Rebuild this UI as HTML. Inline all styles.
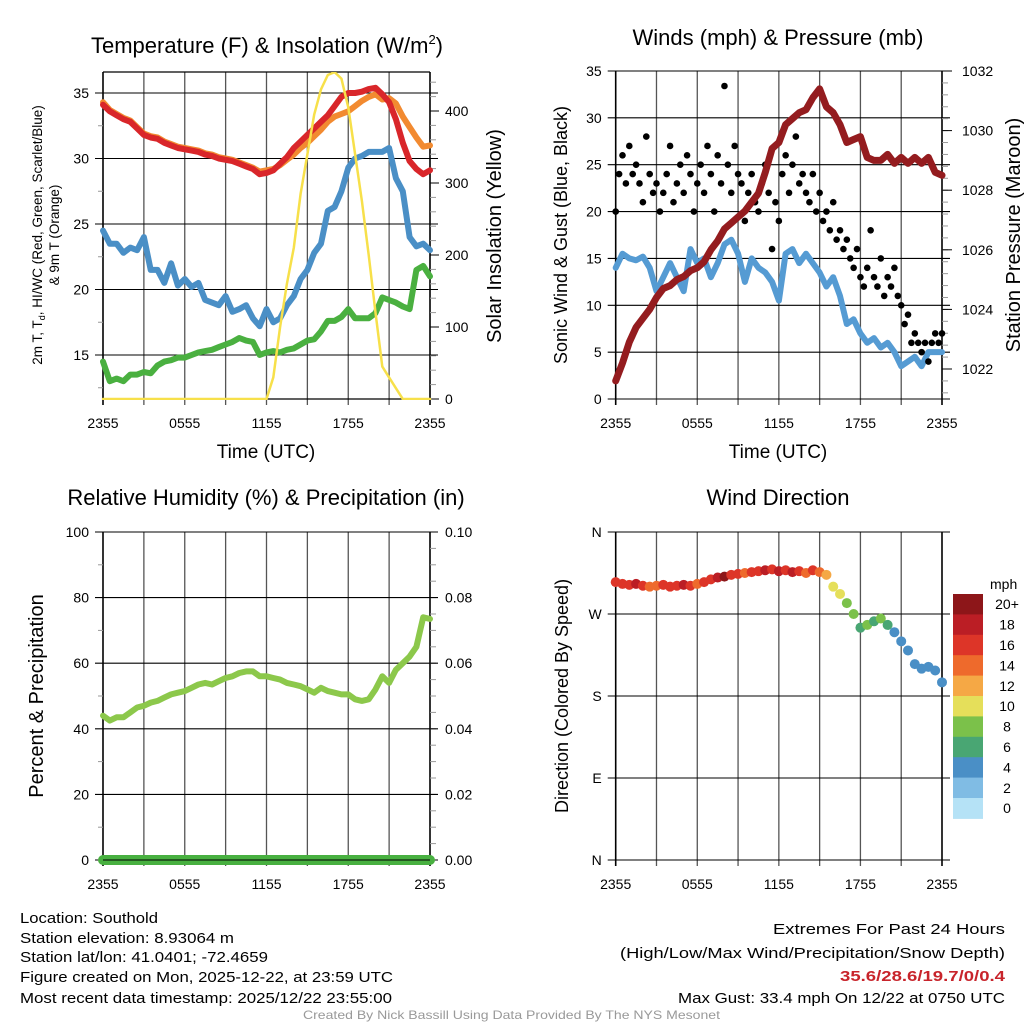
<!DOCTYPE html>
<html><head><meta charset="utf-8">
<style>
html,body{margin:0;padding:0;background:#fff;}
svg{display:block;font-family:"Liberation Sans",Arial,sans-serif;}
</style></head>
<body>
<svg id="fig" width="1024" height="1024" viewBox="0 0 1024 1024" xmlns="http://www.w3.org/2000/svg">
<rect width="1024" height="1024" fill="#fff"/>
<g id="layer"></g>
<!-- titles -->
<text x="267" y="53" font-size="22" text-anchor="middle">Temperature (F) &amp; Insolation (W/m<tspan font-size="13" dy="-9">2</tspan><tspan dy="9">)</tspan></text>
<text x="778" y="45" font-size="22" text-anchor="middle">Winds (mph) &amp; Pressure (mb)</text>
<text x="266" y="505" font-size="22" text-anchor="middle">Relative Humidity (%) &amp; Precipitation (in)</text>
<text x="778" y="505" font-size="22" text-anchor="middle">Wind Direction</text>
<!-- axis titles -->
<text x="266" y="458" font-size="19" text-anchor="middle">Time (UTC)</text>
<text x="778" y="458" font-size="19" text-anchor="middle">Time (UTC)</text>
<text transform="translate(42,235) rotate(-90)" font-size="13.5" text-anchor="middle">2m T, T<tspan font-size="9" dy="3">d</tspan><tspan dy="-3">, HI/WC (Red, Green, Scarlet/Blue)</tspan></text>
<text transform="translate(59,235) rotate(-90)" font-size="13.5" text-anchor="middle">&amp; 9m T (Orange)</text>
<text transform="translate(501,236) rotate(-90)" font-size="20" text-anchor="middle">Solar Insolation (Yellow)</text>
<text transform="translate(567,235) rotate(-90)" font-size="18" text-anchor="middle">Sonic Wind &amp; Gust (Blue, Black)</text>
<text transform="translate(1020,235) rotate(-90)" font-size="20" text-anchor="middle">Station Pressure (Maroon)</text>
<text transform="translate(43,696) rotate(-90)" font-size="20" text-anchor="middle">Percent &amp; Precipitation</text>
<text transform="translate(568,696) rotate(-90)" font-size="18" text-anchor="middle">Direction (Colored By Speed)</text>
<!-- footer -->
<g font-size="15">
<text x="20" y="923" textLength="138" lengthAdjust="spacingAndGlyphs">Location: Southold</text>
<text x="20" y="943" textLength="214" lengthAdjust="spacingAndGlyphs">Station elevation: 8.93064 m</text>
<text x="20" y="962" textLength="248" lengthAdjust="spacingAndGlyphs">Station lat/lon: 41.0401; -72.4659</text>
<text x="20" y="982" textLength="373" lengthAdjust="spacingAndGlyphs">Figure created on Mon, 2025-12-22, at 23:59 UTC</text>
<text x="20" y="1003" textLength="372" lengthAdjust="spacingAndGlyphs">Most recent data timestamp: 2025/12/22 23:55:00</text>
</g>
<g font-size="15">
<text x="773" y="934" textLength="232" lengthAdjust="spacingAndGlyphs">Extremes For Past 24 Hours</text>
<text x="620" y="958" textLength="385" lengthAdjust="spacingAndGlyphs">(High/Low/Max Wind/Precipitation/Snow Depth)</text>
<text x="840" y="981" textLength="165" lengthAdjust="spacingAndGlyphs" fill="#c8242b" font-weight="bold">35.6/28.6/19.7/0/0.4</text>
<text x="678" y="1003" textLength="327" lengthAdjust="spacingAndGlyphs">Max Gust: 33.4 mph On 12/22 at 0750 UTC</text>
</g>
<text x="303" y="1019" font-size="12" fill="#999" textLength="417" lengthAdjust="spacingAndGlyphs">Created By Nick Bassill Using Data Provided By The NYS Mesonet</text>
</svg>
<script>
// ---- data (half-hour steps, 0..24 h after 2355 UTC) ----
const xTickLabels = ["2355","0555","1155","1755","2355"];
const temp2m = [34.1,33.6,33.3,33.0,32.8,32.3,31.8,31.6,31.5,31.2,31.0,30.8,30.7,30.6,30.5,30.3,30.2,30.0,29.9,29.8,29.6,29.4,29.2,28.8,28.9,29.1,29.6,30.1,30.8,31.3,31.8,32.3,32.8,33.3,34.0,34.7,35.0,35.0,35.1,35.3,35.4,34.9,34.3,33.0,31.2,29.8,29.2,28.8,29.1];
const temp9m = [34.3,33.7,33.4,33.1,32.9,32.4,31.9,31.7,31.6,31.3,31.1,30.9,30.8,30.7,30.6,30.4,30.3,30.1,30.0,29.9,29.7,29.5,29.3,29.0,29.1,29.2,29.5,29.9,30.3,30.8,31.2,31.7,32.2,32.8,33.2,33.4,33.6,34.0,34.4,34.7,34.9,34.5,34.6,34.2,33.2,32.4,31.6,30.9,31.0];
const dewpoint = [24.5,23.5,23.5,22.8,23.2,23.0,24.0,21.5,21.5,20.5,22.0,20.3,20.8,20.2,20.5,19.2,19.0,18.8,19.5,18.3,18.5,18.8,17.8,17.2,18.5,17.5,17.8,18.8,19.5,20.8,21.5,22.8,23.5,26.0,26.3,27.5,29.3,30.0,30.2,30.5,30.5,30.5,30.8,28.5,27.5,24.0,23.3,23.5,23.0];
const heatIndex = [14.5,13.0,13.2,13.0,13.5,13.5,13.7,13.6,14.2,14.5,14.6,14.8,14.8,15.0,15.2,15.3,15.4,15.6,15.8,16.0,16.3,16.1,16.0,15.0,15.2,15.3,15.2,15.4,15.5,15.8,16.1,16.2,16.8,17.6,17.6,17.9,18.5,17.8,17.8,17.8,18.2,19.4,19.2,19.0,18.7,18.5,21.5,21.8,21.0];
const insolation = [0,0,0,0,0,0,0,0,0,0,0,0,0,0,0,0,0,0,0,0,0,0,0,0,0,30,100,160,210,285,340,395,430,450,454,445,405,340,275,200,120,45,30,15,0,0,0,0,0];
const pressure = [1021.6,1022.2,1022.9,1023.4,1023.7,1024.0,1024.4,1024.7,1024.8,1025.0,1025.1,1025.3,1025.4,1025.6,1026.0,1026.3,1026.7,1026.9,1027.1,1027.3,1027.6,1027.9,1028.6,1029.4,1029.6,1030.2,1030.4,1030.6,1030.7,1031.1,1031.4,1030.8,1030.6,1030.2,1029.6,1029.7,1029.8,1029.1,1029.0,1029.0,1029.2,1028.9,1029.1,1028.9,1029.1,1028.9,1029.1,1028.6,1028.5];
const windSpeed = [14,15.5,15,14.8,15.2,14,11.5,13,14.5,13,11.5,16,14.5,15,13,14.5,16.5,17,15.5,12.5,15,14,13.5,12.5,10.5,15.5,16,14.5,15.5,14.5,13.5,12,13,11,8,8.5,7,6,6.5,5.5,6,5,3.5,4,4.5,3.5,5,5,5];
// gusts every 15 minutes
const windGust = [20,24,26,23,27,24,25,23,21,28,24,22,23,20,22,24,27,21,23,25,22,26,24,20,23,25,22,27,24,20,26,23,33.4,25,22,27,24,23,19,22,24,21,20,23,25,22,16,21,19,24,26,22,25,28,23,24,22,21,24,20,22,19,20,18,21,17,18,16,17,15,14,16,13,12,14,18,13,12,15,11,13,12,14,11,10,8,9,6,7,6,5,6,4,6,7,6,7];
const humidity = [44,42.5,43.5,43.5,45,46.5,47,48,48.5,49.5,50.5,51,51.5,52.5,53.5,54,53.5,54.5,55.5,56,57,57.5,57.5,56,56,55.5,55,54,53.5,53,52,51,52.5,51.5,51,50.5,50.5,49,48.5,49,52,56,54,58,60,62,65,74,73.5];
const precip = [0,0,0,0,0,0,0,0,0,0,0,0,0,0,0,0,0,0,0,0,0,0,0,0,0,0,0,0,0,0,0,0,0,0,0,0,0,0,0,0,0,0,0,0,0,0,0,0,0];
const windDir = [305,303,302,303,301,300,301,302,300,301,302,301,303,305,308,310,311,313,314,315,316,317,318,319,317,318,316,317,315,318,316,313,300,292,282,270,255,258,262,265,258,250,240,230,215,210,212,208,195];
const dirSpeed = [15,16,15,17,16,14,13,16,15,16,17,15,14,15,16,18,19,16,15,14,15,16,17,16,17,16,17,15,14,16,13,12,10,9,8,7,6,7,6,7,5,4,4,4,4,4,4,4,4];
const speedBins = ["0","2","4","6","8","10","12","14","16","18","20+"];
const speedColors = ["#b5e2f6","#80bce4","#4a8fc6","#49a673","#7bc14a","#e5df5a","#f5a845","#ee6a2c","#dd3528","#bb1e25","#8d1619"];

const NS="http://www.w3.org/2000/svg";
const layer=document.getElementById('layer');
function el(tag,attrs,parent){const e=document.createElementNS(NS,tag);for(const k in attrs)e.setAttribute(k,attrs[k]);(parent||layer).appendChild(e);return e;}
function lin(d0,d1,r0,r1){return v=>r0+(v-d0)*(r1-r0)/(d1-d0);}

function panel(L,R,T,B,name){
  const g=el('g',{});
  
  
  const xs=lin(0,24,L,R);
  for(let h=0;h<=24;h+=3){
    const x=xs(h);
    const gl=el('line',{x1:x,x2:x,y1:T,y2:B+6,stroke:(h===0||h===24)?'#000':'#555','stroke-width':(h===0||h===24)?1.6:1.3},g);
    
    
  }
  for(let i=0;i<xTickLabels.length;i++){
    const t=el('text',{x:xs(i*6),y:B+29,'font-size':14,'text-anchor':'middle'},g);
    t.textContent=xTickLabels[i];
    
    
  }
  return {g,xs};
}
function hgrid(g,L,R,y,lab,side,name){
  const ln=el('line',{x1:L-8,x2:R+8,y1:y,y2:y,stroke:'#000','stroke-width':1.1},g);
  
  
  if(lab!==null){
    const t=el('text',{x:side==='l'?L-14:R+14,y:y+5,'font-size':14,'text-anchor':side==='l'?'end':'start'},g);
    t.textContent=lab;
    
    
  }
}
function minor(g,x,y,len){el('line',{x1:x,x2:x+len,y1:y,y2:y,stroke:'#999','stroke-width':1},g);}
function poly(g,xs,ys,xv,yv,color,w,name,step){
  const st=step||0.5;
  const pts=yv.map((v,i)=>xs(i*st).toFixed(1)+','+ys(v).toFixed(1)).join(' ');
  const p=el('polyline',{points:pts,fill:'none',stroke:color,'stroke-width':w,'stroke-linejoin':'round','stroke-linecap':'round'},g);
  
  
  return p;
}

// ---- Panel 1: temperature ----
(function(){
  const L=103,R=430,T=72,B=399;
  const {g,xs}=panel(L,R,T,B,'temperature-panel');
  const ys=lin(35,15,93,355);
  const yr=lin(0,400,399,111);
  for(let v=12.5;v<=36;v+=2.5){ if(v%5!==0) minor(g,L-5,ys(v),5);}
  for(let v=20;v<=450;v+=20){ if(v%100!==0) minor(g,R,yr(v),6);}
  [15,20,25,30,35].forEach(v=>hgrid(g,L,R,ys(v),String(v),'l','temp-y-tick-label'));
  [0,100,200,300,400].forEach(v=>{const t=el('text',{x:R+15,y:yr(v)+5,'font-size':14},g);t.textContent=String(v);el('line',{x1:R,x2:R+9,y1:yr(v),y2:yr(v),stroke:'#000'},g);});
  el('line',{x1:L,x2:R,y1:T,y2:T,stroke:'#000','stroke-width':1.3},g);
  el('line',{x1:L,x2:R,y1:B,y2:B,stroke:'#000','stroke-width':1.3},g);
  const cp=el('clipPath',{id:'c1'},g);el('rect',{x:L-4,y:T,width:R-L+8,height:B-T+1},cp);
  const d=el('g',{'clip-path':'url(#c1)'},g);
  poly(d,xs,ys,null,heatIndex,'#4ab040',6,'heat-index-line');
  poly(d,xs,ys,null,dewpoint,'#4a8fc6',6,'dewpoint-line');
  poly(d,xs,ys,null,temp9m,'#f28a30',6,'temp-9m-line');
  poly(d,xs,ys,null,temp2m,'#d9262a',6,'temp-2m-line');
  poly(d,xs,yr,null,insolation,'#f7e04a',2.5,'insolation-line');
})();

// ---- Panel 2: winds & pressure ----
(function(){
  const L=615.7,R=942,T=71,B=399;
  const {g,xs}=panel(L,R,T,B,'winds-panel');
  const ys=lin(0,35,399,71);
  const yp=lin(1022,1032,369,71);
  for(let v=0;v<=35;v+=5) hgrid(g,L,R,ys(v),String(v),'l','wind-y-tick-label');
  for(let v=1021.2;v<1032;v+=0.4){ minor(g,R,yp(v),6);}
  [1022,1024,1026,1028,1030,1032].forEach(v=>{const t=el('text',{x:R+20,y:yp(v)+5,'font-size':14},g);t.textContent=String(v);el('line',{x1:R,x2:R+10,y1:yp(v),y2:yp(v),stroke:'#000'},g);});
  poly(g,xs,ys,null,windSpeed,'#559bd3',6,'sonic-wind-line');
  windGust.forEach((v,i)=>{
    const c=el('circle',{cx:xs(i*0.25),cy:ys(v),r:3.3,fill:'#000'},g);
    
    
  });
  poly(g,xs,yp,null,pressure,'#941c1f',7,'pressure-line');
})();

// ---- Panel 3: humidity ----
(function(){
  const L=103,R=430,T=532,B=860;
  const {g,xs}=panel(L,R,T,B,'humidity-panel');
  const ys=lin(0,100,860,532);
  const yr=lin(0,0.1,860,532);
  for(let v=10;v<100;v+=20) minor(g,L-5,ys(v),5);
  for(let v=0.005;v<0.1;v+=0.005){ minor(g,R,yr(v),6);}
  for(let v=0;v<=100;v+=20) hgrid(g,L,R,ys(v),String(v),'l','humidity-y-tick-label');
  [0,0.02,0.04,0.06,0.08,0.1].forEach(v=>{const t=el('text',{x:R+15,y:yr(v)+5,'font-size':14},g);t.textContent=v.toFixed(2);});
  poly(g,xs,ys,null,humidity,'#8cc84b',6,'humidity-line');
  poly(g,xs,yr,null,precip,'#48b040',10,'precip-line');
  el('line',{x1:L,x2:R,y1:B,y2:B,stroke:'#000','stroke-width':1},g);
})();

// ---- Panel 4: wind direction ----
(function(){
  const L=615.7,R=942,T=532,B=860;
  const {g,xs}=panel(L,R,T,B,'wind-direction-panel');
  const ys=lin(0,360,860,532);
  const labs=['N','E','S','W','N'];
  labs.forEach((lab,i)=>hgrid(g,L,R,ys(i*90),lab,'l','direction-tick-label'));
  windDir.forEach((v,i)=>{
    const bin=Math.min(10,Math.max(0,Math.round(dirSpeed[i]/2)));
    const c=el('circle',{cx:xs(i*0.5),cy:ys(v),r:5,fill:speedColors[bin]},g);
    
    
  });
  // colorbar
  const cb=el('g',{},g);
  
  
  const top=594,h=20.4;
  const mt=el('text',{x:990,y:589,'font-size':14},cb);mt.textContent='mph';
  
  
  for(let k=0;k<11;k++){
    const idx=10-k;
    const r=el('rect',{x:953,y:top+k*h,width:30,height:h+0.5,fill:speedColors[idx]},cb);
    
    
    const t=el('text',{x:1007,y:top+k*h+h/2+5,'font-size':14,'text-anchor':'middle'},cb);
    t.textContent=speedBins[idx];
    
    
  }
})();
</script>
</body></html>
